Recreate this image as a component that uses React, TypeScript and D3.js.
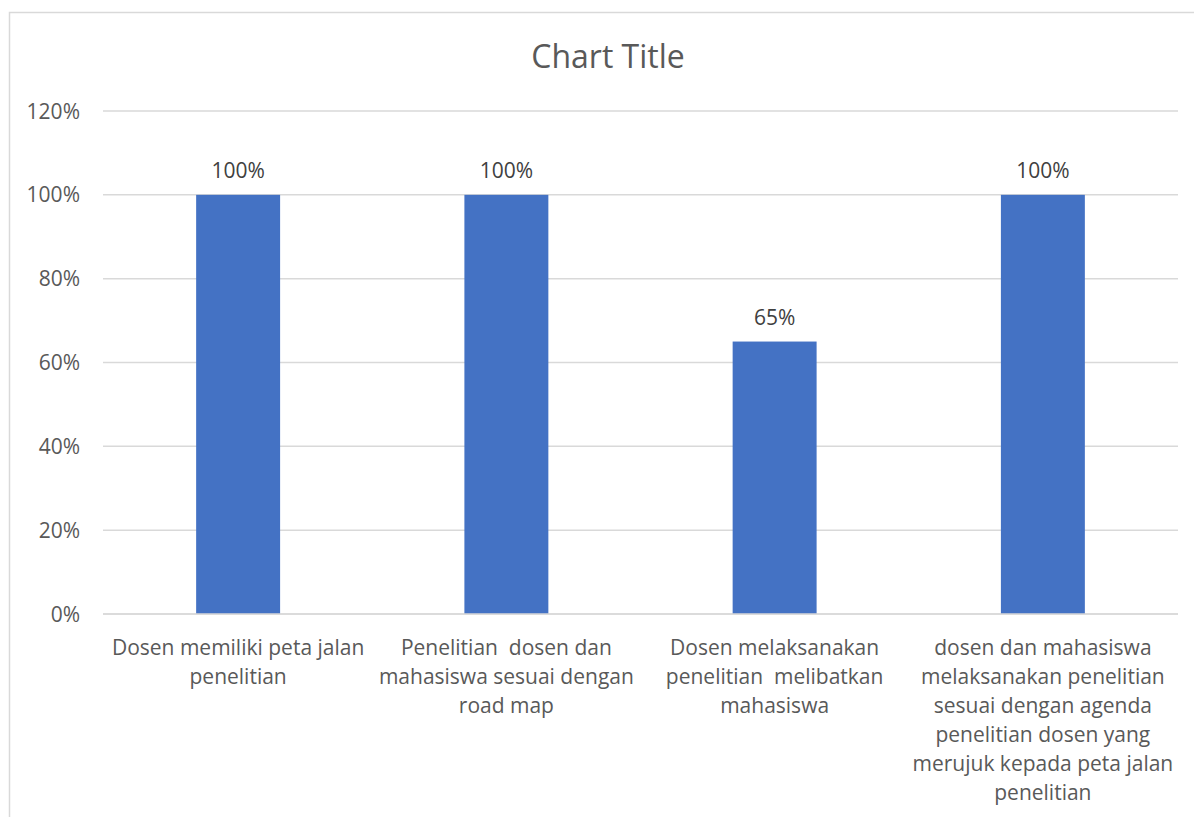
import React, { useEffect, useRef } from 'react';
import * as d3 from 'd3';

const WIDTH = 1194;
const HEIGHT = 817;

const categories = [
  'Dosen memiliki peta jalan penelitian',
  'Penelitian  dosen dan mahasiswa sesuai dengan road map',
  'Dosen melaksanakan penelitian  melibatkan mahasiswa',
  'dosen dan mahasiswa melaksanakan penelitian sesuai dengan agenda penelitian dosen yang merujuk kepada peta jalan penelitian',
];
const categoryLines = [
  ['Dosen memiliki peta jalan', 'penelitian'],
  ['Penelitian  dosen dan', 'mahasiswa sesuai dengan', 'road map'],
  ['Dosen melaksanakan', 'penelitian  melibatkan', 'mahasiswa'],
  ['dosen dan mahasiswa', 'melaksanakan penelitian', 'sesuai dengan agenda', 'penelitian dosen yang', 'merujuk kepada peta jalan', 'penelitian'],
];
const values = [1.0, 1.0, 0.65, 1.0];
const yTicks = [0, 0.2, 0.4, 0.6, 0.8, 1.0, 1.2];

const PLOT = { left: 104, right: 1177, top: 111, bottom: 614 };
const FONT = '"Open Sans", "Noto Sans", sans-serif';
const TEXT = '#595959';

const App: React.FC = () => {
  const svgRef = useRef<SVGSVGElement>(null);

  useEffect(() => {
    const svg = d3.select(svgRef.current);
    svg.selectAll('*').remove();

    // chart area border
    svg.append('rect')
      .attr('x', 9.5)
      .attr('y', 12.5)
      .attr('width', WIDTH + 20)
      .attr('height', HEIGHT + 20)
      .attr('fill', 'white')
      .attr('stroke', '#d9d9d9')
      .attr('stroke-width', 1.5);

    const x = d3.scaleBand<string>()
      .domain(categories)
      .range([PLOT.left, PLOT.right])
      .paddingInner(0.687)
      .paddingOuter(0.3435);

    const y = d3.scaleLinear()
      .domain([0, 1.2])
      .range([PLOT.bottom, PLOT.top]);

    // gridlines
    svg.append('g')
      .selectAll('line')
      .data(yTicks)
      .enter().append('line')
      .attr('x1', PLOT.left - 1)
      .attr('x2', PLOT.right + 1)
      .attr('y1', d => y(d))
      .attr('y2', d => y(d))
      .attr('stroke', '#d9d9d9')
      .attr('stroke-width', 1.5);

    // y labels
    svg.append('g')
      .selectAll('text')
      .data(yTicks)
      .enter().append('text')
      .attr('x', 80)
      .attr('y', d => y(d))
      .attr('dy', '0.36em')
      .attr('text-anchor', 'end')
      .style('font-family', FONT)
      .style('font-size', '21px')
      .style('fill', TEXT)
      .text(d => d3.format('.0%')(d));

    // bars
    svg.append('g')
      .selectAll('rect')
      .data(values)
      .enter().append('rect')
      .attr('x', (d, i) => x(categories[i])!)
      .attr('y', d => y(d))
      .attr('width', x.bandwidth())
      .attr('height', d => y(0) - y(d))
      .attr('fill', '#4472c4');

    // zero line on top of bars
    svg.append('line')
      .attr('x1', PLOT.left - 1)
      .attr('x2', PLOT.right + 1)
      .attr('y1', y(0))
      .attr('y2', y(0))
      .attr('stroke', '#d9d9d9')
      .attr('stroke-width', 1.5);

    // data labels
    svg.append('g')
      .selectAll('text')
      .data(values)
      .enter().append('text')
      .attr('x', (d, i) => x(categories[i])! + x.bandwidth() / 2)
      .attr('y', d => y(d) - 17)
      .attr('text-anchor', 'middle')
      .style('font-family', FONT)
      .style('font-size', '21px')
      .style('fill', '#404040')
      .text(d => d3.format('.0%')(d));

    // category labels
    const cat = svg.append('g')
      .selectAll('text')
      .data(categories)
      .enter().append('text')
      .attr('x', d => x(d)! + x.bandwidth() / 2)
      .attr('y', 654)
      .attr('text-anchor', 'middle')
      .attr('xml:space', 'preserve')
      .style('white-space', 'pre')
      .style('font-family', FONT)
      .style('font-size', '21px')
      .style('fill', TEXT);

    cat.each(function (d, i) {
      const t = d3.select(this);
      categoryLines[i].forEach((line, j) => {
        t.append('tspan')
          .attr('x', x(d)! + x.bandwidth() / 2)
          .attr('y', 655 + j * 29)
          .text(line);
      });
    });

    // title
    svg.append('text')
      .attr('x', 608)
      .attr('y', 68)
      .attr('text-anchor', 'middle')
      .style('font-family', FONT)
      .style('font-size', '32px')
      .style('fill', TEXT)
      .text('Chart Title');
  }, []);

  return (
    <svg
      ref={svgRef}
      width={WIDTH}
      height={HEIGHT}
      style={{ position: 'absolute', left: 0, top: 0, background: 'white' }}
    />
  );
};

export default App;
